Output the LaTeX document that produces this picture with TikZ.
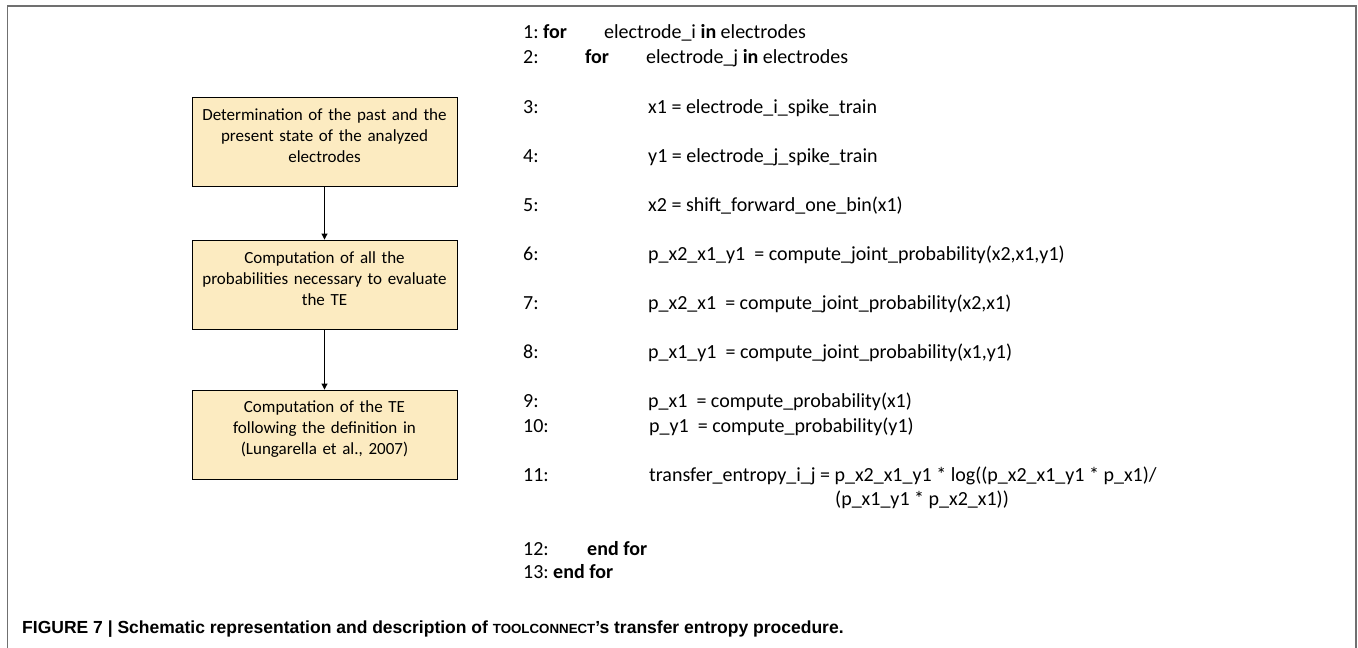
\documentclass[tikz,border=0pt]{standalone}
\usepackage{fontspec}
\setmainfont{Carlito}
\newfontfamily\capfont{Liberation Sans}
\usepackage{tikz}
\usetikzlibrary{arrows.meta, positioning}
\definecolor{boxfill}{RGB}{252,235,193}
\definecolor{framegray}{RGB}{112,112,112}
\tikzset{
  stepbox/.style={draw=black, line width=0.9pt, fill=boxfill, minimum width=265pt,
    minimum height=89pt, text width=255pt, align=center, inner sep=0pt,
    font=\fontsize{17}{21}\selectfont, execute at end node={\par\vspace*{11pt}}},
  codeline/.style={anchor=base west, inner sep=0pt, font=\fontsize{20}{24}\selectfont},
  flow/.style={->, line width=0.9pt}
}

\begin{document}
\begin{tikzpicture}[x=1pt, y=-1pt, >={Triangle[length=6pt, width=6pt]}]
  \useasboundingbox (0,0) rectangle (1358,648);
  \draw[framegray, line width=1.6pt] (7.5,648) -- (7.5,6) -- (1356,6) -- (1356,648);

  \node[stepbox] (past) at (324.5,141.5)
    {Determination of the past and the\\ present state of the analyzed\\ electrodes};
  \node[stepbox] (prob) at (324.5,284.5)
    {Computation of all the\\ probabilities necessary to evaluate\\ the TE};
  \node[stepbox] (te) at (324.5,434.5)
    {Computation of the TE\\ following the definition in\\ (Lungarella et al., 2007)};
  \draw[flow] (past) -- (prob);
  \draw[flow] (prob) -- (te);

  \foreach \n/\y in {1/38, 2/63, 3/113, 4/162, 5/211, 6/260, 7/309, 8/358,
                     9/407, 10/432, 11/481, 12/555, 13/578}
    \node[codeline] (num\n) at (523,\y) {\n:};

  \node[codeline] (for1) at (543,38) {\textbf{for}};
  \node[codeline] (c1) at (604,38) {electrode\_i \textbf{in} electrodes};
  \node[codeline] (for2) at (585,63) {\textbf{for}};
  \node[codeline] (c2) at (646,63) {electrode\_j \textbf{in} electrodes};
  \node[codeline] (c3) at (648,113) {x1 = electrode\_i\_spike\_train};
  \node[codeline] (c4) at (648,162) {y1 = electrode\_j\_spike\_train};
  \node[codeline] (c5) at (648,211) {x2 = shift\_forward\_one\_bin(x1)};
  \node[codeline] (c6) at (648,260) {p\_x2\_x1\_y1\ \ = compute\_joint\_probability(x2,x1,y1)};
  \node[codeline] (c7) at (648,309) {p\_x2\_x1\ \ = compute\_joint\_probability(x2,x1)};
  \node[codeline] (c8) at (648,358) {p\_x1\_y1\ \ = compute\_joint\_probability(x1,y1)};
  \node[codeline] (c9) at (648,407) {p\_x1\ \ = compute\_probability(x1)};
  \node[codeline] (c10) at (649,432) {p\_y1\ \ = compute\_probability(y1)};
  \node[codeline] (c11) at (649,481)
    {transfer\_entropy\_i\_j = p\_x2\_x1\_y1 * log((p\_x2\_x1\_y1 * p\_x1)/};
  \node[codeline] (c11b) at (835,505) {(p\_x1\_y1 * p\_x2\_x1))};
  \node[codeline] (end12) at (587,555) {\textbf{end for}};
  \node[codeline] (end13) at (553,578) {\textbf{end for}};

  \node[anchor=base west, inner sep=0pt, font=\capfont\bfseries\fontsize{17.5}{21}\selectfont]
    (caption) at (22,633) {FIGURE 7 | Schematic representation and description of
    {\fontsize{13.3}{16}\selectfont TOOLCONNECT}’s transfer entropy procedure.};
\end{tikzpicture}
\end{document}
